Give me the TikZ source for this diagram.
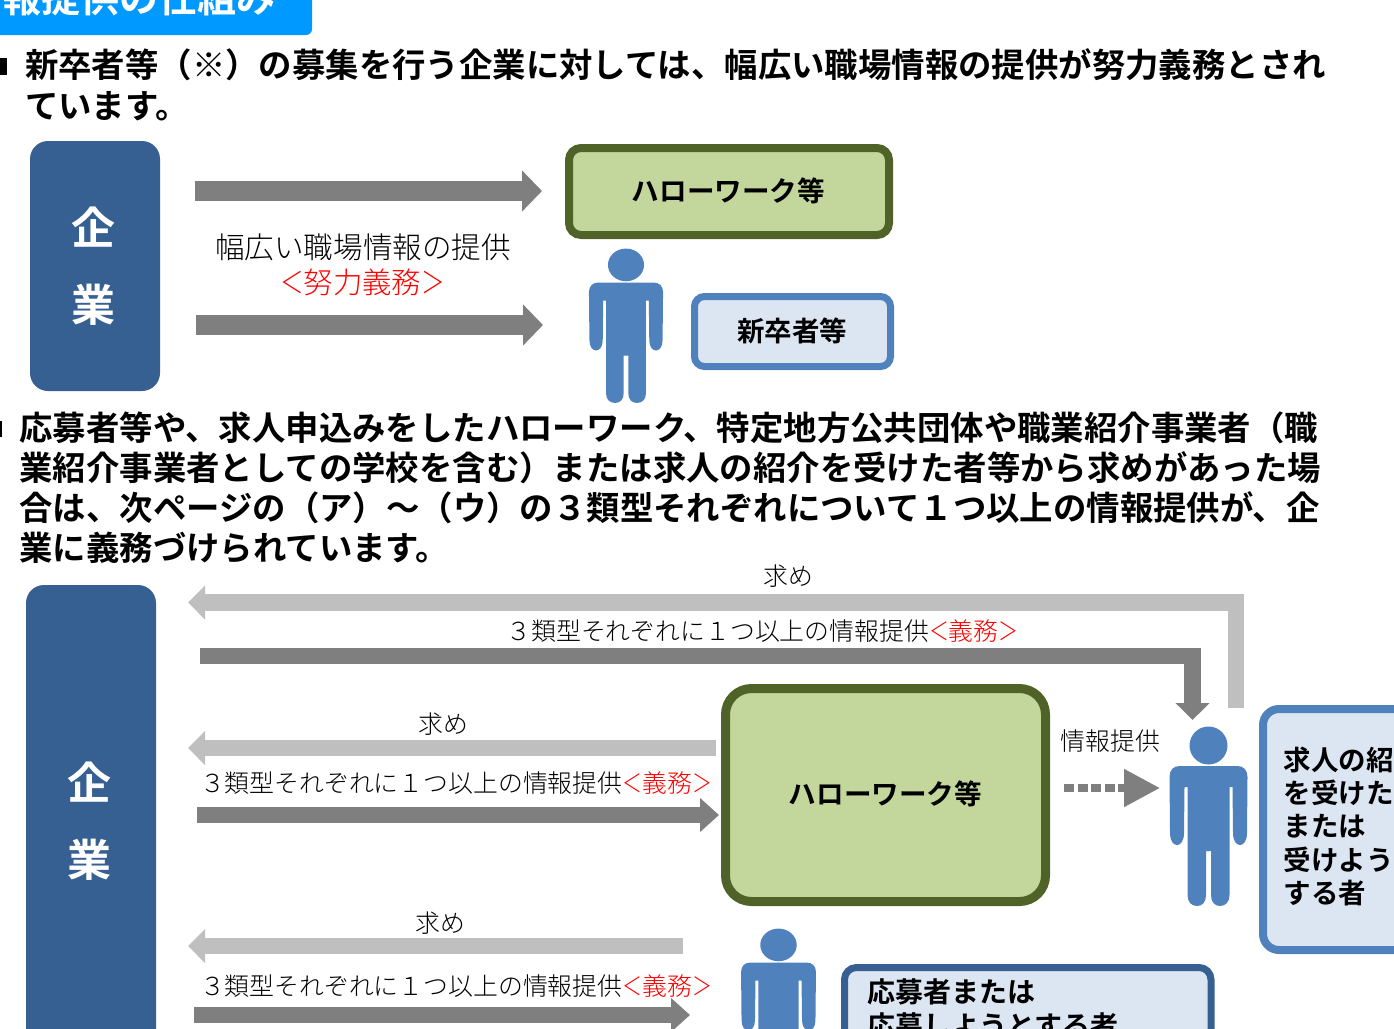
\documentclass[tikz,border=0pt]{standalone}
\usepackage{graphicx}
\usepackage{fontspec}
\usetikzlibrary{arrows.meta}
\setmainfont{Noto Sans CJK JP}[BoldFont=Noto Sans CJK JP Bold]
\newfontfamily\lightcjk{Noto Sans CJK JP Light}
\newcommand{\fs}[1]{\fontsize{#1}{#1}\selectfont}
\newcommand{\lbr}{\scalebox{.8}[1]{＜}}
\newcommand{\rbr}{\scalebox{.8}[1]{＞}}
\definecolor{navy}{RGB}{55,96,146}
\definecolor{pblue}{RGB}{79,129,189}
\definecolor{paleblue}{RGB}{220,230,242}
\definecolor{olive}{RGB}{79,98,40}
\definecolor{lime}{RGB}{195,214,155}
\definecolor{dgray}{RGB}{127,127,127}
\definecolor{lgray}{RGB}{191,191,191}
\definecolor{banner}{RGB}{0,153,255}
\tikzset{
  txt/.style={inner sep=0pt,outer sep=0pt,anchor=base west},
  ctxt/.style={inner sep=0pt,outer sep=0pt,anchor=base,align=center},
  para/.style={txt,font=\bfseries\fs{33.4}},
  thin/.style={ctxt,font=\lightcjk\fs{24.85}},
  company/.style={fill=navy,rounded corners=18pt},
  boxhw/.style={draw=olive,fill=lime,line width=8pt},
  boxpb/.style={draw=pblue,fill=paleblue,line width=7pt},
  boxnv/.style={draw=navy,fill=paleblue,line width=7pt},
  darr/.style={draw=dgray,line width=16.5pt,-{Triangle[length=19pt,width=33pt,sep=0pt]}},
  larr/.style={draw=lgray,line width=16.5pt,-{Triangle[length=17pt,width=33pt,sep=0pt]}},
  bigarr/.style={draw=dgray,line width=20pt,-{Triangle[length=20pt,width=40pt,sep=0pt]}},
  dotarr/.style={draw=dgray,line width=8pt,dash pattern=on 10pt off 3.5pt,-{Triangle[length=36pt,width=36pt,sep=0pt]}},
  person/.pic={
    \fill[pblue] (0,18.5) circle [radius=19];
    \foreach \s in {1,-1}{
      \fill[pblue,xscale=\s] (-0.5,39) -- (29,39) .. controls (35,39) and (39,43) .. (39,50)
        -- (38.5,106) .. controls (38.5,114) and (35,118) .. (31.5,118)
        .. controls (28,118) and (24.5,114) .. (24.5,106) -- (24,60) -- (21,60) -- (21,168)
        .. controls (21,175) and (17,179) .. (11.5,179) .. controls (6,179) and (2.5,175) .. (2.5,168)
        -- (2.5,124) -- (-0.5,124) -- cycle;
    }
  }
}
\begin{document}
\begin{tikzpicture}[x=1pt,y=-1pt]
\useasboundingbox (0,0) rectangle (1394,1028);
\clip (0,0) rectangle (1394,1028);
% banner
\fill[banner,rounded corners=6pt] (-20,-20) rectangle (312,35);
\node[txt,font=\bfseries\fs{39},text=white] (title) at (2,12) {報提供の仕組み};
% bullets
\fill (0,58) rectangle (7,75);
\fill (0,421) rectangle (2,437);
% paragraph 1
\node[para] (p1a) at (25,77.7) {新卒者等（※）の募集を行う企業に対しては、幅広い職場情報の提供が努力義務とされ};
\node[para] (p1b) at (25,118.7) {ています。};
% upper diagram
\fill[company] (30,141) rectangle (160,391);
\node[ctxt,font=\bfseries\fs{44},text=white] (c1a) at (93,244.7) {企};
\node[ctxt,font=\bfseries\fs{44},text=white] (c1b) at (93,321.7) {業};
\draw[boxhw,rounded corners=12pt] (569,148) rectangle (889,235);
\node[ctxt,font=\bfseries\fs{27.6}] (hw1) at (728.5,201.5) {ハローワーク等};
\draw[boxpb,rounded corners=10pt] (694.5,296.5) rectangle (890.5,366.5);
\node[ctxt,font=\bfseries\fs{27.5}] (nc) at (792,341) {新卒者等};
\pic at (626,249) [xscale=.95,yscale=.86] {person};
\coordinate (a1s) at (195,191); \coordinate (a1e) at (542,191);
\coordinate (a2s) at (196,325); \coordinate (a2e) at (543,325);
\draw[bigarr] (a1s) -- (a1e);
\draw[bigarr] (a2s) -- (a2e);
\node[ctxt,font=\lightcjk\fs{29.6}] (l1) at (363,258) {幅広い職場情報の提供};
\node[ctxt,font=\lightcjk\fs{29.4},text=red] (l2) at (362.5,293) {\lbr 努力義務\rbr};
% paragraph 2
\node[para] (p2a) at (19.5,440.7) {応募者等や、求人申込みをしたハローワーク、特定地方公共団体や職業紹介事業者（職};
\node[para] (p2b) at (19.5,480.7) {業紹介事業者としての学校を含む）または求人の紹介を受けた者等から求めがあった場};
\node[para] (p2c) at (19.5,520.7) {合は、次ページの（ア）～（ウ）の３類型それぞれについて１つ以上の情報提供が、企};
\node[para] (p2d) at (19.5,560.7) {業に義務づけられています。};
% lower diagram
\fill[company] (26,585) rectangle (156,1100);
\node[ctxt,font=\bfseries\fs{44},text=white] (c2a) at (89,799.7) {企};
\node[ctxt,font=\bfseries\fs{44},text=white] (c2b) at (89,876.7) {業};
\draw[boxhw,line width=9pt,rounded corners=26pt] (725.5,688.5) rectangle (1045.5,901.5);
\node[ctxt,font=\bfseries\fs{27.6}] (hw2) at (885.5,804) {ハローワーク等};
\draw[boxpb,line width=8pt,rounded corners=16pt] (1263,709) rectangle (1450,950);
\foreach \n/\y/\t in {a/760/求人の紹,b/793/を受けた,c/826/または,d/860/受けよう,e/893/する者}{
  \node[txt,font=\bfseries\fs{27.5}] (k\n) at (1283.5,\y+10.5) {\t};
}
\draw[boxnv,rounded corners=12pt] (844.5,967.5) rectangle (1211,1090);
\node[txt,font=\bfseries\fs{28}] (o1) at (867,1002.6) {応募者または};
\node[txt,font=\bfseries\fs{28}] (o2) at (867,1036.6) {応募しようとする者};
\pic at (1208.5,727) {person};
\pic at (778.5,929) [xscale=.96,yscale=.86] {person};
% arrows
\coordinate (as) at (1236,708); \coordinate (ae) at (188,602.5);
\draw[larr] (as) |- (ae);
\coordinate (bs) at (200,656); \coordinate (be) at (1192.5,720);
\draw[darr,-{Triangle[length=17pt,width=33pt,sep=0pt]}] (bs) -| (be);
\coordinate (cs) at (716,748); \coordinate (ce) at (188,748);
\draw[larr] (cs) -- (ce);
\coordinate (ds) at (197,815); \coordinate (de) at (719,815);
\draw[darr] (ds) -- (de);
\coordinate (es) at (683,946); \coordinate (ee) at (188,946);
\draw[larr] (es) -- (ee);
\coordinate (fs) at (194,1015); \coordinate (fe) at (690,1015);
\draw[darr] (fs) -- (fe);
\coordinate (gs) at (1064,788); \coordinate (ge) at (1160,788);
\draw[dotarr] (gs) -- (ge);
% labels
\node[thin] (la) at (788.5,585) {求め};
\node[thin] (lb) at (762.5,640) {３類型それぞれに１つ以上の情報提供\textcolor{red}{\lbr 義務\rbr}};
\node[thin] (lc) at (443.5,733) {求め};
\node[thin] (ld) at (456,792) {３類型それぞれに１つ以上の情報提供\textcolor{red}{\lbr 義務\rbr}};
\node[thin] (le) at (440.5,932) {求め};
\node[thin] (lf) at (456,995) {３類型それぞれに１つ以上の情報提供\textcolor{red}{\lbr 義務\rbr}};
\node[thin] (lg) at (1110.5,750) {情報提供};
\end{tikzpicture}
\end{document}
